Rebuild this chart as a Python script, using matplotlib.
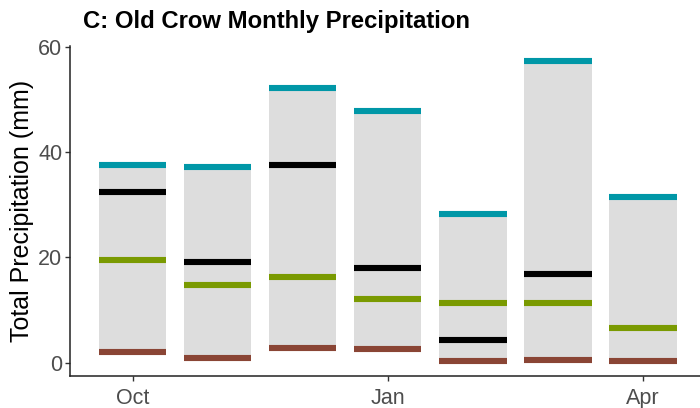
import matplotlib
matplotlib.use("Agg")
import matplotlib.pyplot as plt
import numpy as np

months = ["Oct", "Nov", "Dec", "Jan", "Feb", "Mar", "Apr"]
max_vals = [37.6, 37.2, 52.2, 47.7, 28.3, 57.3, 31.5]
current_vals = [32.5, 19.1, 37.5, 18.0, 4.4, 16.9, np.nan]
mean_vals = [19.6, 14.8, 16.2, 12.2, 11.4, 11.3, 6.6]
min_vals = [2.1, 0.9, 2.8, 2.6, 0.4, 0.5, 0.3]
tick_labels = {"Oct": 0, "Jan": 3, "Apr": 6}

plt.rcParams['font.family'] = ['Liberation Sans', 'DejaVu Sans']

fig = plt.figure(figsize=(7.0, 4.08), dpi=100)
ax = fig.add_axes([0.1, 0.0784, 0.9, 0.81])

x = np.arange(len(months))
w = 0.79
ax.bar(x, np.array(max_vals) - np.array(min_vals), bottom=min_vals, width=w,
       color="#DDDDDD", edgecolor="none", zorder=1)

lw = 4.4
for vals, col in [(min_vals, "#8A4535"), (mean_vals, "#7A9A01"),
                  (current_vals, "#000000"), (max_vals, "#0097A7")]:
    v = np.array(vals, dtype=float)
    m = ~np.isnan(v)
    ax.hlines(v[m], x[m] - w / 2, x[m] + w / 2, colors=col, linewidth=lw,
              capstyle="butt", zorder=3)

ax.set_xlim(-0.737, 6.67)
ax.set_ylim(-2.5, 60.2)
ax.set_yticks([0, 20, 40, 60])
ax.set_xticks(list(tick_labels.values()))
ax.set_xticklabels(list(tick_labels.keys()))
ax.tick_params(axis="both", labelsize=15.5, colors="#333333", labelcolor="#4D4D4D",
               length=3.5, width=1.0)
ax.tick_params(axis="y", pad=2)
ax.tick_params(axis="x", pad=5)
for s in ["top", "right"]:
    ax.spines[s].set_visible(False)
for s in ["left", "bottom"]:
    ax.spines[s].set_linewidth(1.1)
    ax.spines[s].set_color("#222222")

ax.set_ylabel("Total Precipitation (mm)", fontsize=18, color="black", labelpad=3)
fig.text(0.119, 0.9306, "C: Old Crow Monthly Precipitation", fontsize=17.2,
         fontweight="bold", ha="left", va="baseline")

fig.savefig("out.png", dpi=100)
